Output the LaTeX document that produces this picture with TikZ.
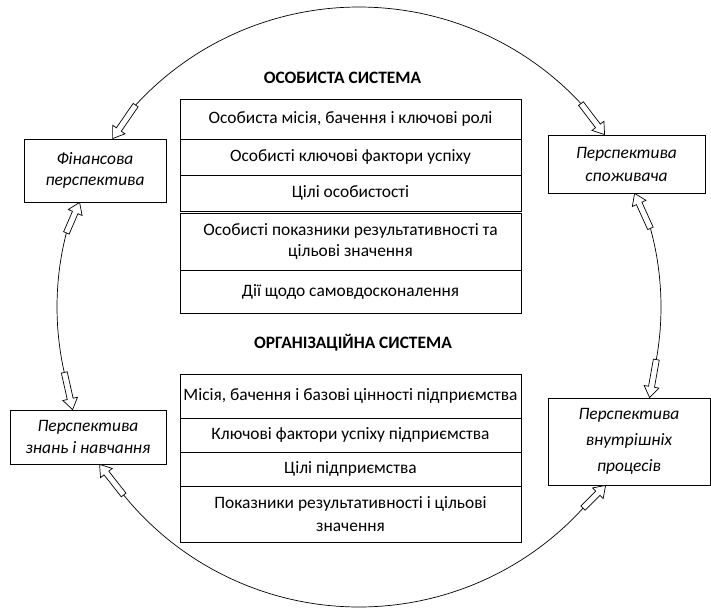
\documentclass[tikz,border=0pt]{standalone}
\usepackage{fontspec}
\setmainfont{Carlito}
\usetikzlibrary{calc}

% hollow block arrow from tail #1 to tip #2
\newcommand\blockarrow[2]{%
  \coordinate (hb) at ($(#2)!11pt!(#1)$);
  \draw[blockarr]
    ($(#1)!3pt!90:(#2)$) --
    ($(hb)!3pt!-90:(#1)$) --
    ($(hb)!7.5pt!-90:(#1)$) --
    (#2) --
    ($(hb)!7.5pt!90:(#1)$) --
    ($(hb)!3pt!90:(#1)$) --
    ($(#1)!3pt!-90:(#2)$) -- cycle;
}
% named point of the ring at a given angle
\newcommand\ringpt[2]{\coordinate (#1) at ({359+302*cos(#2)},{307+300*sin(#2)});}

\tikzset{
  txt/.style={font=\fontsize{17.4}{21}\selectfont},
  rowbox/.style={draw, rectangle, minimum width=341pt, inner sep=0pt,
    align=center, line width=0.8pt, txt},
  sidebox/.style={draw, rectangle, align=center, inner sep=0pt, fill=white,
    line width=0.8pt, font=\fontsize{17.4}{22}\selectfont\itshape},
  ring/.style={line width=0.7pt},
  blockarr/.style={fill=white, line width=0.7pt, line join=miter},
  heading/.style={font=\fontsize{17.4}{20}\selectfont\bfseries}
}

\begin{document}
\begin{tikzpicture}[x=1pt, y=-1pt]
\useasboundingbox (0,0) rectangle (711,610);

% four perspectives
\node[sidebox, minimum width=142pt, minimum height=63pt,
  font=\fontsize{17.4}{21}\selectfont\itshape] (fin) at (95,170.5)
  {Фінансова\\перспектива};
\node[sidebox, minimum width=157pt, minimum height=58pt,
  font=\fontsize{17.4}{23}\selectfont\itshape] (cons) at (626.5,164)
  {Перспектива\\споживача};
\node[sidebox, minimum width=156pt, minimum height=54pt] (know) at (88,437)
  {Перспектива\\знань і навчання};
\node[sidebox, minimum width=162pt, minimum height=87pt,
  font=\fontsize{17.4}{26}\selectfont\itshape] (intp) at (629,441.5)
  {Перспектива\\внутрішніх\\процесів};

% personal system
\node[heading] (ptitle) at (342.5,78) {ОСОБИСТА СИСТЕМА};
\node[rowbox, minimum height=40pt] (p1) at (350.5,119) {Особиста місія, бачення і ключові ролі};
\node[rowbox, minimum height=36pt] (p2) at (350.5,157) {Особисті ключові фактори успіху};
\node[rowbox, minimum height=36pt] (p3) at (350.5,193) {Цілі особистості};
\node[rowbox, minimum height=57pt] (p4) at (350.5,241.5)
  {Особисті показники результативності та\\цільові значення};
\node[rowbox, minimum height=43pt] (p5) at (350.5,291.5) {Дії щодо самовдосконалення};

% organisational system
\node[heading] (otitle) at (353,343) {ОРГАНІЗАЦІЙНА СИСТЕМА};
\node[rowbox, minimum height=44pt] (o1) at (350.5,396) {Місія, бачення і базові цінності підприємства};
\node[rowbox, minimum height=34pt] (o2) at (350.5,435) {Ключові фактори успіху підприємства};
\node[rowbox, minimum height=34pt] (o3) at (350.5,469) {Цілі підприємства};
\node[rowbox, minimum height=56pt, font=\fontsize{17.4}{23}\selectfont] (o4) at (350.5,514)
  {Показники результативності і цільові\\значення};

% ends of the ring arcs
\ringpt{a1}{222.3}
\ringpt{a2}{317.3}
\ringpt{a3}{344.8}
\ringpt{a4}{370.1}
\ringpt{a5}{42.1}
\ringpt{a6}{141.2}
\ringpt{a7}{167.4}
\ringpt{a8}{194.3}

% arrow tips on the box edges
\coordinate (h1) at ($(fin.north west)+(89,0)$);
\coordinate (h2) at ($(cons.north west)+(57,0)$);
\coordinate (h3) at ($(cons.south west)+(87,0)$);
\coordinate (h4) at ($(intp.north west)+(102,0)$);
\coordinate (h5) at ($(intp.south west)+(58,0)$);
\coordinate (h6) at ($(know.south west)+(90,0)$);
\coordinate (h7) at ($(know.north west)+(63,0)$);
\coordinate (h8) at ($(fin.south west)+(56,0)$);

% ring arcs
\draw[ring] plot[domain=222.3:317.3, samples=90, smooth] ({359+302*cos(\x)},{307+300*sin(\x)});
\draw[ring] plot[domain=344.8:370.1, samples=30, smooth] ({359+302*cos(\x)},{307+300*sin(\x)});
\draw[ring] plot[domain=42.1:141.2, samples=90, smooth] ({359+302*cos(\x)},{307+300*sin(\x)});
\draw[ring] plot[domain=167.4:194.3, samples=30, smooth] ({359+302*cos(\x)},{307+300*sin(\x)});

% block arrows into the perspectives
\blockarrow{a1}{h1}
\blockarrow{a2}{h2}
\blockarrow{a3}{h3}
\blockarrow{a4}{h4}
\blockarrow{a5}{h5}
\blockarrow{a6}{h6}
\blockarrow{a7}{h7}
\blockarrow{a8}{h8}
\end{tikzpicture}
\end{document}
